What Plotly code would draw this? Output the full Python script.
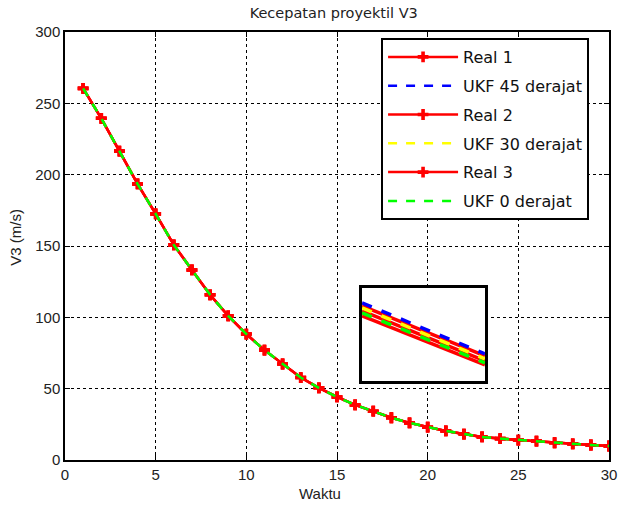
import plotly.graph_objects as go

# main data
t = list(range(1, 31))
real1 = [260.5, 239.5, 216.5, 193.5, 172.5, 150.8, 133.2, 115.8, 101.0, 88.3,
         77.0, 67.3, 57.8, 50.6, 44.2, 38.6, 34.2, 29.6, 26.0, 23.0,
         20.4, 18.2, 16.2, 15.0, 14.0, 13.2, 12.1, 11.3, 10.5, 9.8]
ukf45 = real1
real2 = real1
ukf30 = real1
real3 = real1
ukf0 = real1

# inset (zoomed-in segment, normalised inset coordinates)
ins_x = [0, 1]
ins_blue = [0.839, 0.29]
ins_real1 = [0.806, 0.269]
ins_yellow = [0.785, 0.237]
ins_real2 = [0.753, 0.215]
ins_green = [0.731, 0.194]
ins_real3 = [0.699, 0.172]

names = ["Real 1", "UKF 45 derajat", "Real 2", "UKF 30 derajat", "Real 3", "UKF 0 derajat"]
main_series = [real1, ukf45, real2, ukf30, real3, ukf0]
inset_series = [ins_real1, ins_blue, ins_real2, ins_yellow, ins_real3, ins_green]
colors = ["#ff0000", "#0000ff", "#ff0000", "#ffff00", "#ff0000", "#00ff00"]

FONT = "Liberation Sans, Arial"

fig = go.Figure()
for i, (nm, ys, c) in enumerate(zip(names, main_series, colors)):
    if nm.startswith("Real"):
        fig.add_trace(go.Scatter(x=t, y=ys, name=nm, mode="lines+markers",
                                 line=dict(color=c, width=2.5),
                                 marker=dict(symbol="cross", size=9, color=c),
                                 legendgroup=str(i)))
    else:
        fig.add_trace(go.Scatter(x=t, y=ys, name=nm, mode="lines",
                                 line=dict(color=c, width=2.5, dash="dash"),
                                 legendgroup=str(i)))

for nm, ys, c in zip(names, inset_series, colors):
    fig.add_trace(go.Scatter(x=ins_x, y=ys, mode="lines", showlegend=False,
                             line=dict(color=c, width=3.5,
                                       dash="solid" if nm.startswith("Real") else "dash"),
                             xaxis="x2", yaxis="y2"))

axis_common = dict(showline=True, linecolor="black", linewidth=1.5, mirror="ticks",
                   ticks="inside", ticklen=5, tickcolor="black",
                   showgrid=True, gridcolor="black", griddash="dot", gridwidth=1,
                   zeroline=False, automargin=False,
                   tickfont=dict(family=FONT, size=15, color="#222"))

fig.update_layout(
    width=618, height=507,
    margin=dict(l=65, r=9, t=32, b=47, autoexpand=False),
    paper_bgcolor="white", plot_bgcolor="white",
    title=dict(text="Kecepatan proyektil V3", x=0.54, xanchor="center", y=0.985, yanchor="top",
               font=dict(family="DejaVu Sans", size=14.5, color="#222")),
    xaxis=dict(range=[0, 30], tickvals=[0, 5, 10, 15, 20, 25, 30], **axis_common),
    yaxis=dict(range=[0, 300], tickvals=[0, 50, 100, 150, 200, 250, 300], **axis_common),
    xaxis2=dict(domain=[0.546, 0.772], anchor="y2", range=[0, 1], showgrid=False,
                showticklabels=False, zeroline=False, showline=True, linecolor="black",
                linewidth=2.5, mirror=True, ticks=""),
    yaxis2=dict(domain=[0.185, 0.402], anchor="x2", range=[0, 1], showgrid=False,
                showticklabels=False, zeroline=False, showline=True, linecolor="black",
                linewidth=2.5, mirror=True, ticks=""),
    shapes=[dict(type="rect", xref="x2 domain", yref="y2 domain", x0=0, x1=1, y0=0, y1=1,
                 fillcolor="white", line=dict(width=0), layer="below")],
    annotations=[
        dict(text="Waktu", xref="paper", yref="paper", x=0.468, y=-0.078,
             xanchor="center", yanchor="middle", showarrow=False,
             font=dict(family=FONT, size=15, color="#222")),
        dict(text="V3 (m/s)", xref="paper", yref="paper", x=-0.0915, y=0.52,
             xanchor="center", yanchor="middle", textangle=-90, showarrow=False,
             font=dict(family=FONT, size=15, color="#222")),
    ],
    legend=dict(x=0.581, y=0.986, xanchor="left", yanchor="top",
                bgcolor="white", bordercolor="black", borderwidth=2,
                traceorder="grouped", tracegroupgap=5, itemwidth=70,
                font=dict(family="DejaVu Sans", size=16, color="#111")),
    showlegend=True,
)

fig.write_html("out.html")
